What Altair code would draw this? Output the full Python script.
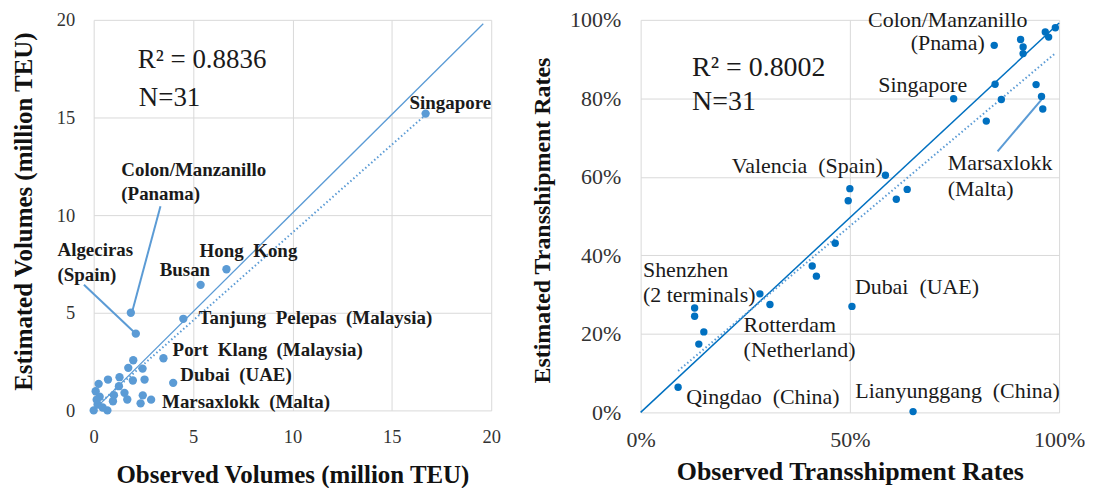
import altair as alt
import pandas as pd

FONT = "Liberation Serif"
BLUE_L = "#5B9BD5"
BLUE_R = "#0070C0"
SP = "\u2002"  # wider word gap as in the original labels

# ---------------- Left panel data (million TEU) ----------------
vol_observed = [16.7, 6.68, 5.38, 1.87, 2.12, 4.51, 3.51, 4.0, 2.89,
                1.99, 2.46, 1.74, 2.56, 1.97, 1.30, 0.72, 0.25, 2.47, 2.36, 1.69,
                0.97, 1.02, 1.55, 1.27, 0.69, 0.0, 0.10, 0.30, 0.20, 0.45, 0.15]
vol_estimated = [15.2, 7.23, 6.43, 5.0, 3.93, 4.69, 2.67, 1.41, 0.55,
                 2.57, 2.14, 2.18, 1.58, 1.53, 1.70, 1.58, 1.36, 0.77, 0.36, 0.56,
                 0.47, 0.78, 0.90, 1.24, 0.0, 0.0, 0.98, 0.70, 0.30, 0.15, 0.55]
vol_diag_x = [0, 19.6]
vol_diag_y = [0, 19.8]

vol_labels = ["Singapore", "Colon/Manzanillo", "(Panama)", "Algeciras", "(Spain)",
              "Hong" + SP + "Kong", "Busan", "Tanjung" + SP + "Pelepas" + SP + "(Malaysia)",
              "Port" + SP + "Klang" + SP + "(Malaysia)",
              "Dubai" + SP + "(UAE)", "Marsaxlokk" + SP + "(Malta)"]
vol_label_x = [15.89, 1.39, 1.39, -1.82, -1.82, 5.33, 3.32, 5.28, 3.97, 4.36, 3.44]
vol_label_y = [15.73, 12.3, 11.06, 8.21, 6.94, 8.18, 7.19, 4.73, 3.11, 1.79, 0.44]

vol_callout_x = [1.94, -0.49]
vol_callout_y = [5.07, 6.43]
vol_callout_x2 = [3.36, 2.12]
vol_callout_y2 = [10.46, 3.93]

vol_stats = ["R\u00b2 = 0.8836", "N=31"]
vol_stats_x = [2.22, 2.27]
vol_stats_y = [17.94, 16.0]

# ---------------- Right panel data (transshipment rates, %) ----------------
rate_observed = [8.95, 13.9, 15.1, 12.9, 12.9, 28.5, 30.9, 41.0, 42.0, 46.5, 50.0, 49.6,
                 50.5, 65.1, 58.5, 61.1, 63.7, 74.8, 82.6, 84.7, 86.2, 84.5, 90.8, 91.4,
                 91.4, 94.5, 95.8, 96.1, 96.7, 97.5, 99.1]
rate_estimated = [6.4, 17.4, 20.5, 26.6, 24.5, 30.2, 27.5, 37.3, 34.7, 43.1, 57.0, 53.9,
                  27.0, 0.2, 60.4, 54.3, 56.8, 79.9, 74.2, 83.6, 79.7, 93.5, 95.0, 93.1,
                  91.4, 83.5, 80.5, 77.3, 96.9, 95.6, 98.0]
rate_diag_x = [0, 100]
rate_diag_y = [0, 99.2]

rate_labels_c = ["Colon/Manzanillo", "(Pnama)", "Singapore"]
rate_labels_c_x = [73.4, 73.4, 67.4]
rate_labels_c_y = [100.0, 94.2, 83.5]
rate_labels_l = ["Marsaxlokk", "(Malta)", "Valencia" + SP + "(Spain)", "Shenzhen",
                 "(2 terminals)", "Dubai" + SP + "(UAE)", "Rotterdam", "(Netherland)",
                 "Qingdao" + SP + "(China)", "Lianyunggang" + SP + "(China)"]
rate_labels_l_x = [73.4, 73.4, 21.8, 0.55, 0.55, 51.2, 24.6, 24.6, 10.9, 51.3]
rate_labels_l_y = [63.6, 57.0, 62.7, 36.2, 29.8, 32.0, 22.2, 15.8, 3.9, 5.4]

rate_callout_x = [85.3]
rate_callout_y = [66.5]
rate_callout_x2 = [95.8]
rate_callout_y2 = [79.7]

rate_stats = ["R\u00b2 = 0.8002", "N=31"]
rate_stats_x = [12.3, 12.3]
rate_stats_y = [87.7, 79.0]

# ---------------- Left panel ----------------
L_W, L_H = 399, 392
xs_l = alt.Scale(domain=[0, 20], nice=False, zero=False)
ys_l = alt.Scale(domain=[0, 20], nice=False, zero=False)
ax_xl = alt.Axis(values=[0, 5, 10, 15, 20], title="Observed Volumes (million TEU)",
                 labelFontSize=18.5, labelPadding=17, titleFontSize=25,
                 titleY=64, titleBaseline="middle")
ax_yl = alt.Axis(values=[0, 5, 10, 15, 20], title="Estimated Volumes (million TEU)",
                 labelFontSize=18.5, labelPadding=19, titleFontSize=25,
                 titleAngle=270, titleX=-70, titleY=192, titleAlign="center",
                 titleBaseline="middle")


def XL(f):
    return alt.X(f"{f}:Q", scale=xs_l, axis=ax_xl)


def YL(f):
    return alt.Y(f"{f}:Q", scale=ys_l, axis=ax_yl)


df_l = pd.DataFrame({"obs": vol_observed, "est": vol_estimated})
df_l_diag = pd.DataFrame({"obs": vol_diag_x, "est": vol_diag_y})
df_l_lab = pd.DataFrame({"obs": vol_label_x, "est": vol_label_y, "t": vol_labels})
df_l_call = pd.DataFrame({"obs": vol_callout_x, "est": vol_callout_y,
                          "obs2": vol_callout_x2, "est2": vol_callout_y2})
df_l_stat = pd.DataFrame({"obs": vol_stats_x, "est": vol_stats_y, "t": vol_stats})

l_diag = alt.Chart(df_l_diag).mark_line(color=BLUE_L, strokeWidth=1.3).encode(
    x=XL("obs"), y=YL("est"))
l_trend = alt.Chart(df_l).transform_regression(
    "obs", "est", extent=[0, 16.7]).mark_line(
    color=BLUE_L, strokeWidth=2, strokeDash=[1.5, 2.5]).encode(x=XL("obs"), y=YL("est"))
l_call = alt.Chart(df_l_call).mark_rule(color=BLUE_L, strokeWidth=2).encode(
    x=XL("obs"), y=YL("est"), x2="obs2:Q", y2="est2:Q")
l_pts = alt.Chart(df_l).mark_circle(color=BLUE_L, size=70, opacity=1).encode(
    x=XL("obs"), y=YL("est"))
l_lab = alt.Chart(df_l_lab).mark_text(
    align="left", baseline="middle", font=FONT, fontSize=19, fontWeight="bold",
    color="#1a1a1a").encode(x=XL("obs"), y=YL("est"), text="t:N")
l_stat = alt.Chart(df_l_stat).mark_text(
    align="left", baseline="middle", font=FONT, fontSize=27, color="#1a1a1a").encode(
    x=XL("obs"), y=YL("est"), text="t:N")

left = alt.layer(l_diag, l_trend, l_call, l_pts, l_lab, l_stat).properties(
    width=L_W, height=L_H)

# ---------------- Right panel ----------------
R_W, R_H = 420, 394
xs_r = alt.Scale(domain=[0, 100], nice=False, zero=False)
ys_r = alt.Scale(domain=[0, 100], nice=False, zero=False)
ax_xr = alt.Axis(values=[0, 50, 100], title="Observed Transshipment Rates",
                 labelExpr="datum.value + '%'",
                 labelFontSize=22, labelPadding=17, titleFontSize=26,
                 titleY=59, titleBaseline="middle")
ax_yr = alt.Axis(values=[0, 20, 40, 60, 80, 100], title="Estimated Transshipment Rates",
                 labelExpr="datum.value + '%'",
                 labelFontSize=22, labelPadding=20, titleFontSize=24,
                 titleAngle=270, titleX=-98, titleY=201, titleAlign="center",
                 titleBaseline="middle")


def XR(f):
    return alt.X(f"{f}:Q", scale=xs_r, axis=ax_xr)


def YR(f):
    return alt.Y(f"{f}:Q", scale=ys_r, axis=ax_yr)


df_r = pd.DataFrame({"obs": rate_observed, "est": rate_estimated})
df_r_diag = pd.DataFrame({"obs": rate_diag_x, "est": rate_diag_y})
df_r_labc = pd.DataFrame({"obs": rate_labels_c_x, "est": rate_labels_c_y, "t": rate_labels_c})
df_r_labl = pd.DataFrame({"obs": rate_labels_l_x, "est": rate_labels_l_y, "t": rate_labels_l})
df_r_call = pd.DataFrame({"obs": rate_callout_x, "est": rate_callout_y,
                          "obs2": rate_callout_x2, "est2": rate_callout_y2})
df_r_stat = pd.DataFrame({"obs": rate_stats_x, "est": rate_stats_y, "t": rate_stats})

r_diag = alt.Chart(df_r_diag).mark_line(color=BLUE_R, strokeWidth=1.5).encode(
    x=XR("obs"), y=YR("est"))
r_trend = alt.Chart(df_r).transform_regression(
    "obs", "est", extent=[8.95, 99.1]).mark_line(
    color=BLUE_L, strokeWidth=2, strokeDash=[1.5, 2.5]).encode(x=XR("obs"), y=YR("est"))
r_call = alt.Chart(df_r_call).mark_rule(color=BLUE_L, strokeWidth=2).encode(
    x=XR("obs"), y=YR("est"), x2="obs2:Q", y2="est2:Q")
r_pts = alt.Chart(df_r).mark_circle(color=BLUE_R, size=55, opacity=1).encode(
    x=XR("obs"), y=YR("est"))
r_labc = alt.Chart(df_r_labc).mark_text(
    align="center", baseline="middle", font=FONT, fontSize=22, color="#1a1a1a").encode(
    x=XR("obs"), y=YR("est"), text="t:N")
r_labl = alt.Chart(df_r_labl).mark_text(
    align="left", baseline="middle", font=FONT, fontSize=22, color="#1a1a1a").encode(
    x=XR("obs"), y=YR("est"), text="t:N")
r_stat = alt.Chart(df_r_stat).mark_text(
    align="left", baseline="middle", font=FONT, fontSize=28, color="#1a1a1a").encode(
    x=XR("obs"), y=YR("est"), text="t:N")

right = alt.layer(r_diag, r_trend, r_call, r_pts, r_labc, r_labl, r_stat).properties(
    width=R_W, height=R_H)

chart = alt.hconcat(left, right, spacing=150, bounds="flush").properties(
    padding={"left": 3, "top": 0, "right": 0, "bottom": 0},
    background="white"
).configure_view(stroke=None).configure_axis(
    labelFont=FONT, titleFont=FONT, labelColor="#333333", titleColor="#111111",
    titleFontWeight="bold", gridColor="#D9D9D9", gridWidth=1, domain=False,
    ticks=False, tickSize=0, labelFontWeight="normal", labelFlush=False
)

chart.save("out.html", embed_options={"renderer": "svg", "actions": False})
